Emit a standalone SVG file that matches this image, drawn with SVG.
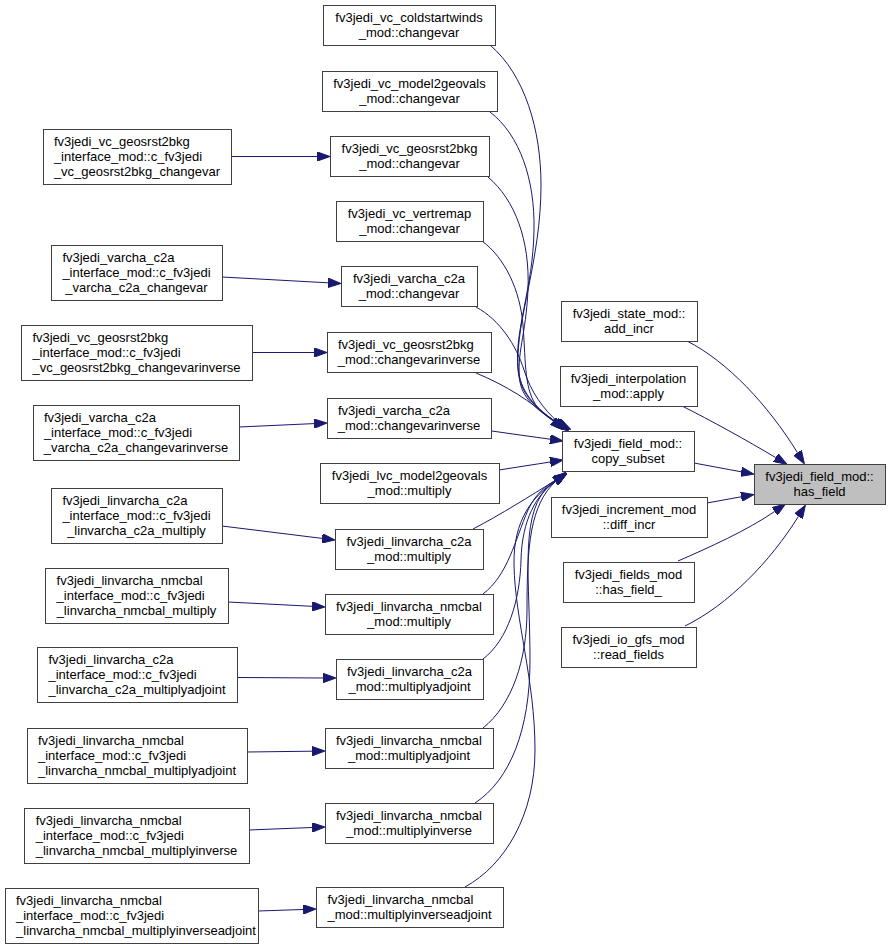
<svg xmlns="http://www.w3.org/2000/svg" width="891" height="949" viewBox="0 0 891 949">
<defs>
<style>
rect{fill:#ffffff;stroke:#404040;stroke-width:1}
#has_field rect{fill:#bfbfbf}
text{font-family:"Liberation Sans",Arial,Helvetica,sans-serif;font-size:13px;fill:#000}
.m{text-anchor:middle}
.s{text-anchor:start}
.e{fill:none;stroke:#191970;stroke-width:1;marker-end:url(#arr)}
</style>
<marker id="arr" viewBox="0 0 13 9.4" refX="0" refY="4.7" markerWidth="13" markerHeight="9.4" markerUnits="userSpaceOnUse" orient="auto">
<path d="M0,0 L13,4.7 L0,9.4 z" fill="#191970" stroke="#191970" stroke-width="1"/>
</marker>
</defs>
<rect x="0" y="0" width="891" height="949" style="fill:#fff;stroke:none"/>

<g id="connectors">
<!-- left column to middle -->
<path class="e" d="M231,156.5 L317,156.5"/>
<path class="e" d="M222,277 L328,282.8"/>
<path class="e" d="M252,352.5 L314,352.5"/>
<path class="e" d="M239,427 L314,423.6"/>
<path class="e" d="M222,526 L322.1,538.4"/>
<path class="e" d="M228,602 L312,606.3"/>
<path class="e" d="M237,677.5 L323,678"/>
<path class="e" d="M247,752 L312,751.2"/>
<path class="e" d="M249,830 L312,827.5"/>
<path class="e" d="M258,911 L303,909.5"/>
<!-- middle to copy_subset (top group) -->
<path class="e" d="M490,45 C525,75 541,130 541,185 C541,260 516,320 518,365 C519,392 536,408 556,422"/>
<path class="e" d="M490,112 C520,135 535,180 534,230 C533,290 514,330 518,370 C520,395 538,410 557,422.5"/>
<path class="e" d="M488,177 C515,200 530,240 528,290 C526,335 516,355 520,382 C523,400 540,412 558,423"/>
<path class="e" d="M482,241 C505,258 520,290 523,325 C526,365 524,390 538,408 C544,415 550,419 559,423.5"/>
<path class="e" d="M476,307 C500,320 516,345 524,370 C531,392 543,409 559,423"/>
<path class="e" d="M476,373 C505,385 531,401 553,421"/>
<path class="e" d="M492,431 C512,434 532,436.6 550.1,439.2"/>
<path class="e" d="M499,470 C518,467 535,464.4 550.2,462"/>
<!-- middle to copy_subset (bottom group) -->
<path class="e" d="M473,529 C500,515 530,496 556,480"/>
<path class="e" d="M483,594 C508,575 515,540 528,510 C536,493 546,486 556,480"/>
<path class="e" d="M483,659 C508,640 520,600 521,560 C522,520 536,495 556,480.5"/>
<path class="e" d="M483,728 C512,705 527,660 527,610 C527,545 530,505 556,481"/>
<path class="e" d="M475,803 C510,780 530,730 530,660 C530,580 520,520 545,490 C548,487 552,484 556,481"/>
<path class="e" d="M465,887 C505,865 535,815 535,750 C535,680 515,620 514,565 C513,520 533,496 555,481.5"/>
<!-- right column to has_field -->
<path class="e" d="M687,341 C728,362 768,405 797.5,452.7"/>
<path class="e" d="M682,406 C710,420 748,441 775.7,457.6"/>
<path class="e" d="M694,463 C710,466 726,469 741.2,471.8"/>
<path class="e" d="M707,503 C718,501 730,498.8 741.2,496.8"/>
<path class="e" d="M678,561 C708,548 748,530 774.7,511.4"/>
<path class="e" d="M685,626 C728,605 770,562 798.5,516.3"/>
</g>

<!-- middle column -->
<g id="coldstartwinds_changevar"><rect x="323.5" y="5.5" width="172" height="40"/><text class="m" x="409" y="21.5">fv3jedi_vc_coldstartwinds</text><text class="m" x="409" y="36.5">_mod::changevar</text></g>
<g id="model2geovals_changevar"><rect x="322.5" y="71.5" width="175" height="40"/><text class="m" x="409.5" y="87.5">fv3jedi_vc_model2geovals</text><text class="m" x="409.5" y="102.5">_mod::changevar</text></g>
<g id="geosrst2bkg_changevar"><rect x="330.5" y="136.5" width="159" height="40"/><text class="m" x="409.5" y="152.5">fv3jedi_vc_geosrst2bkg</text><text class="m" x="409.5" y="167.5">_mod::changevar</text></g>
<g id="vertremap_changevar"><rect x="336.5" y="201.5" width="147" height="40"/><text class="m" x="409.5" y="217.5">fv3jedi_vc_vertremap</text><text class="m" x="409.5" y="232.5">_mod::changevar</text></g>
<g id="varcha_c2a_changevar"><rect x="341.5" y="266.5" width="136" height="40"/><text class="m" x="409" y="283">fv3jedi_varcha_c2a</text><text class="m" x="409" y="298">_mod::changevar</text></g>
<g id="geosrst2bkg_changevarinverse"><rect x="327.5" y="332.5" width="164" height="40"/><text class="s" x="337.9" y="349">fv3jedi_vc_geosrst2bkg</text><text class="m" x="409" y="364">_mod::changevarinverse</text></g>
<g id="varcha_c2a_changevarinverse"><rect x="327.5" y="398.5" width="164" height="40"/><text class="s" x="337.9" y="414.5">fv3jedi_varcha_c2a</text><text class="m" x="409" y="429.5">_mod::changevarinverse</text></g>
<g id="lvc_model2geovals_multiply"><rect x="320.5" y="463.5" width="179" height="40"/><text class="m" x="409.5" y="479.5">fv3jedi_lvc_model2geovals</text><text class="m" x="409.5" y="494.5">_mod::multiply</text></g>
<g id="linvarcha_c2a_multiply"><rect x="335.5" y="529.5" width="148" height="40"/><text class="m" x="409" y="545.5">fv3jedi_linvarcha_c2a</text><text class="m" x="409" y="560.5">_mod::multiply</text></g>
<g id="linvarcha_nmcbal_multiply"><rect x="325.5" y="594.5" width="168" height="40"/><text class="m" x="409" y="610.5">fv3jedi_linvarcha_nmcbal</text><text class="m" x="409" y="625.5">_mod::multiply</text></g>
<g id="linvarcha_c2a_multiplyadjoint"><rect x="336.5" y="659.5" width="147" height="40"/><text class="m" x="409.5" y="675.5">fv3jedi_linvarcha_c2a</text><text class="m" x="409.5" y="690.5">_mod::multiplyadjoint</text></g>
<g id="linvarcha_nmcbal_multiplyadjoint"><rect x="325.5" y="728.5" width="168" height="40"/><text class="m" x="409" y="744.5">fv3jedi_linvarcha_nmcbal</text><text class="m" x="409" y="759.5">_mod::multiplyadjoint</text></g>
<g id="linvarcha_nmcbal_multiplyinverse"><rect x="325.5" y="803.5" width="168" height="40"/><text class="m" x="409" y="819.5">fv3jedi_linvarcha_nmcbal</text><text class="m" x="409" y="834.5">_mod::multiplyinverse</text></g>
<g id="linvarcha_nmcbal_multiplyinverseadjoint"><rect x="316.5" y="887.5" width="187" height="40"/><text class="s" x="327.5" y="903.5">fv3jedi_linvarcha_nmcbal</text><text class="m" x="409.5" y="918.5">_mod::multiplyinverseadjoint</text></g>

<!-- left column -->
<g id="c_vc_geosrst2bkg_changevar"><rect x="43.5" y="129.5" width="188" height="55"/><text class="s" x="53.9" y="145.5">fv3jedi_vc_geosrst2bkg</text><text class="s" x="53.9" y="160.5">_interface_mod::c_fv3jedi</text><text class="m" x="137" y="175.5">_vc_geosrst2bkg_changevar</text></g>
<g id="c_varcha_c2a_changevar"><rect x="51.5" y="245.5" width="171" height="55"/><text class="s" x="62.4" y="261.5">fv3jedi_varcha_c2a</text><text class="s" x="62.4" y="276.5">_interface_mod::c_fv3jedi</text><text class="m" x="136.5" y="291.5">_varcha_c2a_changevar</text></g>
<g id="c_vc_geosrst2bkg_changevarinverse"><rect x="21.5" y="325.5" width="231" height="55"/><text class="s" x="32.4" y="341.5">fv3jedi_vc_geosrst2bkg</text><text class="s" x="32.4" y="356.5">_interface_mod::c_fv3jedi</text><text class="m" x="136.5" y="371.5">_vc_geosrst2bkg_changevarinverse</text></g>
<g id="c_varcha_c2a_changevarinverse"><rect x="33.5" y="405.5" width="206" height="55"/><text class="s" x="43.9" y="421.5">fv3jedi_varcha_c2a</text><text class="s" x="43.9" y="436.5">_interface_mod::c_fv3jedi</text><text class="m" x="136" y="451.5">_varcha_c2a_changevarinverse</text></g>
<g id="c_linvarcha_c2a_multiply"><rect x="51.5" y="488.5" width="171" height="55"/><text class="s" x="62.4" y="504.5">fv3jedi_linvarcha_c2a</text><text class="s" x="62.4" y="519.5">_interface_mod::c_fv3jedi</text><text class="m" x="136.5" y="534.5">_linvarcha_c2a_multiply</text></g>
<g id="c_linvarcha_nmcbal_multiply"><rect x="45.5" y="568.5" width="183" height="55"/><text class="s" x="56.6" y="584.5">fv3jedi_linvarcha_nmcbal</text><text class="s" x="56.6" y="599.5">_interface_mod::c_fv3jedi</text><text class="m" x="136.5" y="614.5">_linvarcha_nmcbal_multiply</text></g>
<g id="c_linvarcha_c2a_multiplyadjoint"><rect x="37.5" y="647.5" width="200" height="55"/><text class="s" x="48.5" y="663.5">fv3jedi_linvarcha_c2a</text><text class="s" x="48.5" y="678.5">_interface_mod::c_fv3jedi</text><text class="m" x="137" y="693.5">_linvarcha_c2a_multiplyadjoint</text></g>
<g id="c_linvarcha_nmcbal_multiplyadjoint"><rect x="27.5" y="728.5" width="220" height="55"/><text class="s" x="38" y="744.5">fv3jedi_linvarcha_nmcbal</text><text class="s" x="38" y="759.5">_interface_mod::c_fv3jedi</text><text class="m" x="137" y="774.5">_linvarcha_nmcbal_multiplyadjoint</text></g>
<g id="c_linvarcha_nmcbal_multiplyinverse"><rect x="24.5" y="808.5" width="225" height="55"/><text class="s" x="35.7" y="824.5">fv3jedi_linvarcha_nmcbal</text><text class="s" x="35.7" y="839.5">_interface_mod::c_fv3jedi</text><text class="m" x="136.5" y="854.5">_linvarcha_nmcbal_multiplyinverse</text></g>
<g id="c_linvarcha_nmcbal_multiplyinverseadjoint"><rect x="5.5" y="888.5" width="253" height="55"/><text class="s" x="16" y="904.5">fv3jedi_linvarcha_nmcbal</text><text class="s" x="16" y="919.5">_interface_mod::c_fv3jedi</text><text class="m" x="136" y="934.5">_linvarcha_nmcbal_multiplyinverseadjoint</text></g>

<!-- right column -->
<g id="add_incr"><rect x="561.5" y="301.5" width="136" height="40"/><text class="m" x="629" y="317.5">fv3jedi_state_mod::</text><text class="m" x="629" y="332.5">add_incr</text></g>
<g id="apply"><rect x="560.5" y="366.5" width="137" height="40"/><text class="m" x="628.5" y="382.5">fv3jedi_interpolation</text><text class="m" x="628.5" y="397.5">_mod::apply</text></g>
<g id="copy_subset"><rect x="562.5" y="431.5" width="132" height="40"/><text class="m" x="628" y="447.5">fv3jedi_field_mod::</text><text class="m" x="628" y="462.5">copy_subset</text></g>
<g id="diff_incr"><rect x="551.5" y="497.5" width="156" height="40"/><text class="m" x="629" y="513.5">fv3jedi_increment_mod</text><text class="m" x="629" y="528.5">::diff_incr</text></g>
<g id="has_field_"><rect x="563.5" y="562.5" width="131" height="40"/><text class="m" x="628.5" y="578.5">fv3jedi_fields_mod</text><text class="m" x="628.5" y="593.5">::has_field_</text></g>
<g id="read_fields"><rect x="561.5" y="627.5" width="135" height="40"/><text class="m" x="628.5" y="643.5">fv3jedi_io_gfs_mod</text><text class="m" x="628.5" y="658.5">::read_fields</text></g>
<g id="has_field"><rect x="754.5" y="464.5" width="131" height="40"/><text class="m" x="819.5" y="480.5">fv3jedi_field_mod::</text><text class="m" x="819.5" y="495.5">has_field</text></g>
</svg>
